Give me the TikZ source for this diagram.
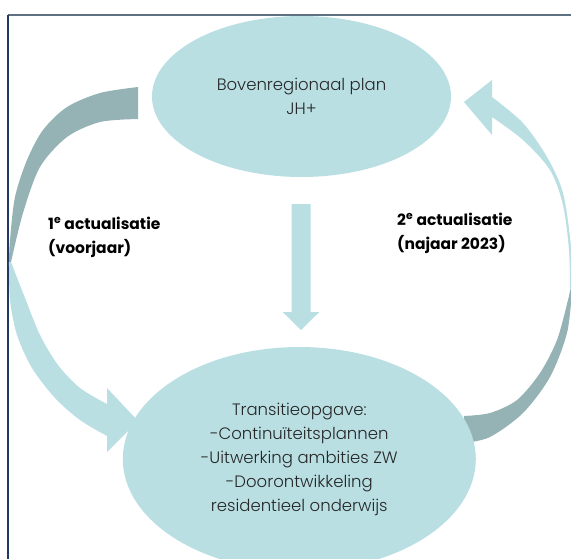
\documentclass[tikz,border=0pt]{standalone}
\usepackage{fontspec}
\setmainfont{Poppins}
\newfontfamily\lightfont{Poppins Light}
\usetikzlibrary{shapes.geometric}
\definecolor{lt}{HTML}{B9DFE3}
\definecolor{dk}{HTML}{95B3B5}
\definecolor{frtop}{HTML}{5F7080}
\definecolor{frleft}{HTML}{1F3864}
\definecolor{txt}{HTML}{262626}
\tikzset{
  bubble/.style={ellipse, fill=lt, inner sep=0pt, text=txt, align=center,
    font=\lightfont\fontsize{16.5}{24}\selectfont},
  lbl/.style={align=left, anchor=west, inner sep=0pt, text=black,
    font=\bfseries\fontsize{15.5}{24}\selectfont},
}
\begin{document}
\begin{tikzpicture}[x=1pt,y=-1pt]
\useasboundingbox (0,0) rectangle (571,558);
\clip (0,0) rectangle (571,558);
% frame
\draw[frtop, line width=2pt] (8,15) -- (575,15);
\draw[frleft, line width=2pt] (8,15) -- (8,562);
% left curved arrow: back (dark) part
\fill[dk] plot[smooth] coordinates {(138,87) (100,93) (67,107) (43,130) (27,160) (15,197) (10,240) (9,262)}
  -- plot[smooth] coordinates {(11,262) (23,213) (40,167) (67,137) (100,122) (138,119)} -- cycle;
% left curved arrow: front (light) part
\fill[lt] plot[smooth] coordinates {(9,262) (10,300) (17,335) (32,368) (55,398) (80,420) (107,436)}
  -- (107,452) -- (138,421) -- (107,388) -- (107,404)
  -- plot[smooth] coordinates {(107,404) (80,388) (58,365) (40,335) (25,298) (11,262)} -- cycle;
% right curved arrow: front (light) part
\fill[lt] plot[smooth] coordinates {(572,290) (571,247) (563,193) (547,157) (523,123) (492,97)}
  -- (492,80) -- (464,102) -- (492,135) -- (492,117)
  -- plot[smooth] coordinates {(492,117) (523,140) (550,170) (563,205) (569,250) (570,290)} -- cycle;
% right curved arrow: back (dark) part
\fill[dk] plot[smooth] coordinates {(572,290) (567,333) (550,377) (523,413) (490,437) (464,443)}
  -- (464,416)
  -- plot[smooth] coordinates {(464,416) (490,413) (517,400) (540,373) (557,340) (568,300) (570,290)} -- cycle;
% ellipses
\node[bubble, minimum width=299pt, minimum height=161pt] (top) at (301.5,96.5)
  {Bovenregionaal plan\\JH+};
\node[bubble, minimum width=353pt, minimum height=224pt] (bot) at (299.3,459)
  {Transitieopgave:\\-Continuïteitsplannen\\-Uitwerking ambities ZW\\-Doorontwikkeling\\residentieel onderwijs};
% down arrow
\fill[lt] (291.7,204) -- (310.7,204) -- (310.7,312) -- (319.3,312) -- (301,330)
  -- (282.7,312) -- (291.7,312) -- cycle;
% labels
\node[lbl] (l1) at (48,237) {1\textsuperscript{e} actualisatie\\(voorjaar)};
\node[lbl] (l2) at (397,233) {2\textsuperscript{e} actualisatie\\(najaar 2023)};
\end{tikzpicture}
\end{document}
